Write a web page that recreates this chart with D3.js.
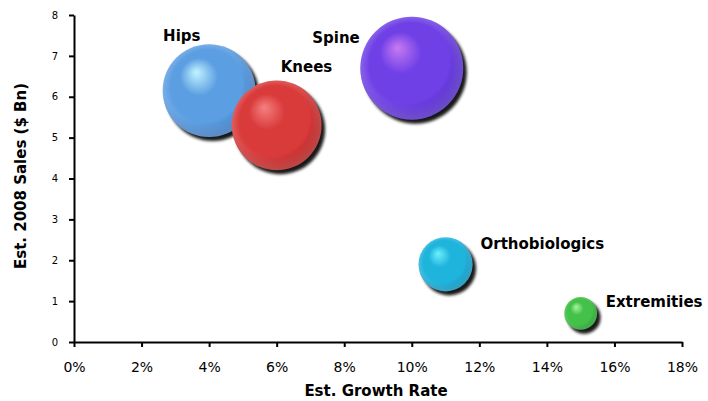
<!DOCTYPE html>
<html>
<head>
<meta charset="utf-8">
<script src="https://cdn.jsdelivr.net/npm/d3@7"></script>
<style>
  html, body { margin: 0; padding: 0; background: #fff; }
  svg { display: block; font-family: Verdana, "DejaVu Sans", sans-serif; }
</style>
</head>
<body>
<svg id="chart" width="708" height="401"></svg>
<script>
// ---- data ----
const segments   = ["Hips", "Knees", "Spine", "Orthobiologics", "Extremities"];
const growthRate = [0.04, 0.06, 0.10, 0.11, 0.15];   // Est. Growth Rate
const sales2008  = [6.15, 5.3, 6.7, 1.9, 0.7];       // Est. 2008 Sales ($ Bn)
const bubbleSize = [5.45, 5.1, 6.7, 1.85, 0.68];     // bubble size values
const xTicks     = [0, 0.02, 0.04, 0.06, 0.08, 0.10, 0.12, 0.14, 0.16, 0.18];
const yTicks     = [0, 1, 2, 3, 4, 5, 6, 7, 8];

// ---- styling (not data) ----
const palette = {
  "Hips":           { hi: "#c2f4ff", base: "#5c9ee2", edge: "#356fb4" },
  "Knees":          { hi: "#f58080", base: "#d93a3a", edge: "#a81e1e" },
  "Spine":          { hi: "#c77af2", base: "#6f40e6", edge: "#4a25b8" },
  "Orthobiologics": { hi: "#6ef0ff", base: "#1fb4dc", edge: "#0f86b2" },
  "Extremities":    { hi: "#a8f5a0", base: "#43c148", edge: "#22902a" }
};
const labelPos = {
  "Hips":           { dx: -46, dy: -50, anchor: "start" },
  "Knees":          { dx: 4,   dy: -53, anchor: "start" },
  "Spine":          { dx: -52, dy: -25, anchor: "end" },
  "Orthobiologics": { dx: 35,  dy: -15, anchor: "start" },
  "Extremities":    { dx: 25,  dy: -6,  anchor: "start" }
};

const svg = d3.select("#chart");
const x = d3.scaleLinear().domain([0, 0.18]).range([74, 682]);
const y = d3.scaleLinear().domain([0, 8]).range([342, 15]);
const r = d3.scaleSqrt().domain([0, d3.max(bubbleSize)]).range([0, 51.5]);

const data = segments.map((s, i) => ({
  name: s, gx: growthRate[i], sales: sales2008[i], size: bubbleSize[i]
}));

// defs: gradients + shadow blur
const defs = svg.append("defs");
defs.append("filter").attr("id", "blur")
  .attr("x", "-30%").attr("y", "-30%").attr("width", "160%").attr("height", "160%")
  .append("feGaussianBlur").attr("stdDeviation", 1.8);

data.forEach((d, i) => {
  const c = palette[d.name];
  const g = defs.append("radialGradient").attr("id", "grad" + i)
    .attr("cx", "45%").attr("cy", "45%").attr("r", "58%")
    .attr("fx", "36%").attr("fy", "30%");
  g.append("stop").attr("offset", "0%").attr("stop-color", c.hi);
  g.append("stop").attr("offset", "35%").attr("stop-color", c.base);
  g.append("stop").attr("offset", "75%").attr("stop-color", c.base);
  g.append("stop").attr("offset", "100%").attr("stop-color", c.edge);
  const rim = defs.append("radialGradient").attr("id", "rim" + i)
    .attr("cx", "50%").attr("cy", "50%").attr("r", "50%")
    .attr("fx", "45%").attr("fy", "30%");
  rim.append("stop").attr("offset", "0%").attr("stop-color", "#fff").attr("stop-opacity", 0);
  rim.append("stop").attr("offset", "80%").attr("stop-color", "#fff").attr("stop-opacity", 0);
  rim.append("stop").attr("offset", "100%").attr("stop-color", "#fff").attr("stop-opacity", 0.18);
});

// axes
const xAxis = d3.axisBottom(x).tickValues(xTicks).tickFormat(d3.format(".0%"))
  .tickSizeInner(5).tickSizeOuter(0).tickPadding(15);
const yAxis = d3.axisLeft(y).tickValues(yTicks).tickFormat(d3.format("d"))
  .tickSizeInner(5).tickSizeOuter(0).tickPadding(11);

const gx = svg.append("g").attr("transform", "translate(0,342)").call(xAxis);
gx.selectAll("text").attr("font-size", 14).attr("fill", "#000")
  .attr("font-family", "Verdana, 'DejaVu Sans', sans-serif");
const gy = svg.append("g").attr("transform", "translate(74,0)").call(yAxis);
gy.selectAll("text").attr("font-size", 10).attr("fill", "#000")
  .attr("font-family", "Verdana, 'DejaVu Sans', sans-serif");
[gx, gy].forEach(g => {
  g.select(".domain").attr("stroke", "#000").attr("stroke-width", 2);
  g.selectAll(".tick line").attr("stroke", "#000").attr("stroke-width", 2);
});

// axis titles
svg.append("text").attr("x", 376).attr("y", 396).attr("text-anchor", "middle")
  .attr("font-size", 15).attr("font-weight", "bold").text("Est. Growth Rate");
svg.append("text").attr("transform", "translate(26,176) rotate(-90)")
  .attr("text-anchor", "middle").attr("font-size", 15).attr("font-weight", "bold")
  .text("Est. 2008 Sales ($ Bn)");

// bubbles
const bub = svg.append("g").selectAll("g").data(data).join("g")
  .attr("transform", d => `translate(${x(d.gx)},${y(d.sales)})`);
bub.append("circle").attr("cx", 3.5).attr("cy", 4).attr("r", d => r(d.size))
  .attr("fill", "#000").attr("opacity", 0.9).attr("filter", "url(#blur)");
bub.append("circle").attr("r", d => r(d.size))
  .attr("fill", (d, i) => `url(#grad${i})`);
bub.append("circle").attr("r", d => r(d.size))
  .attr("fill", (d, i) => `url(#rim${i})`);

// labels
svg.append("g").selectAll("text").data(data).join("text")
  .attr("x", d => x(d.gx) + labelPos[d.name].dx)
  .attr("y", d => y(d.sales) + labelPos[d.name].dy)
  .attr("text-anchor", d => labelPos[d.name].anchor)
  .attr("font-size", 15).attr("font-weight", "bold").attr("fill", "#000")
  .text(d => d.name);
</script>
</body>
</html>
